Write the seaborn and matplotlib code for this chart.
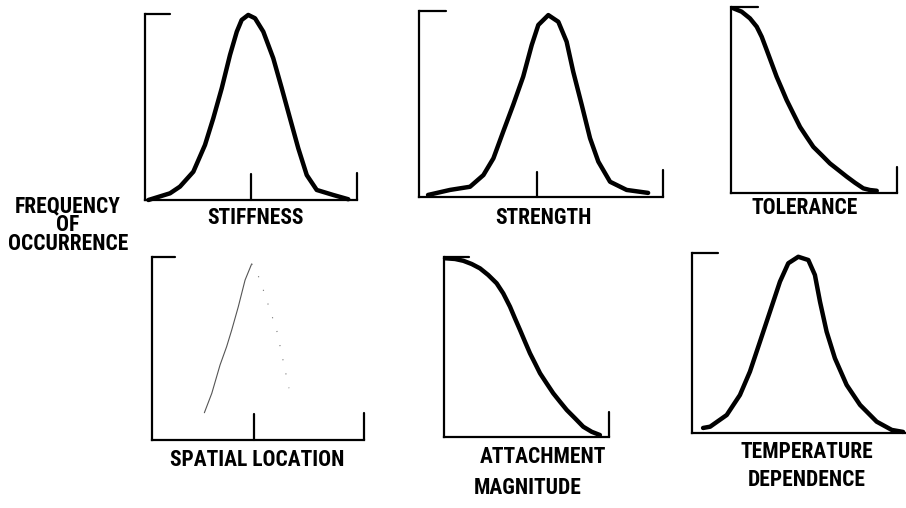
import matplotlib
matplotlib.use("Agg")
import matplotlib.pyplot as plt
import seaborn as sns

sns.set_style("white")
plt.rcParams['font.family'] = ['Liberation Sans Narrow', 'DejaVu Sans Condensed', 'Roboto Condensed', 'DejaVu Sans']

# curves, x and y on a 0-10 scale for each small panel
stiffness_x = [0.16, 1.18, 1.65, 2.28, 2.83, 3.22, 3.62, 4.01, 4.33, 4.56, 4.87, 5.19, 5.58, 6.05, 6.45,
               6.84, 7.23, 7.63, 8.10, 8.88, 9.59]
stiffness_y = [0.00, 0.36, 0.72, 1.52, 2.96, 4.39, 6.01, 7.80, 9.05, 9.68, 9.95, 9.77, 9.05, 7.62, 6.01,
               4.39, 2.78, 1.34, 0.54, 0.27, 0.04]

strength_x = [0.37, 1.27, 2.09, 2.64, 3.05, 3.45, 3.86, 4.27, 4.62, 4.89, 5.30, 5.71, 6.05, 6.32, 6.67,
              7.01, 7.35, 7.83, 8.51, 9.39]
strength_y = [0.11, 0.38, 0.55, 1.18, 2.08, 3.51, 4.95, 6.47, 8.17, 9.25, 9.78, 9.42, 8.35, 6.74, 4.95,
              3.16, 1.90, 0.82, 0.38, 0.22]

tolerance_x = [0.14, 0.64, 1.14, 1.55, 1.85, 2.15, 2.45, 2.75, 3.05, 3.35, 3.75, 4.16, 4.56, 4.96, 5.46,
               5.96, 6.46, 6.97, 7.47, 7.97, 8.37, 8.78]
tolerance_y = [9.93, 9.75, 9.39, 8.94, 8.40, 7.69, 6.97, 6.25, 5.63, 5.00, 4.28, 3.55, 3.01, 2.48, 2.04,
               1.59, 1.24, 0.88, 0.55, 0.25, 0.16, 0.12]

spatial_rise_x = [2.47, 2.82, 3.21, 3.52, 3.76, 4.07, 4.39, 4.70]
spatial_rise_y = [1.49, 2.55, 4.10, 5.10, 6.01, 7.28, 8.74, 9.62]
spatial_fall_x = [4.70, 4.86, 5.25, 5.88, 6.46]
spatial_fall_y = [9.62, 9.47, 8.20, 6.01, 2.83]

attachment_x = [0.06, 0.67, 1.17, 1.68, 2.18, 2.68, 3.19, 3.59, 4.00, 4.30, 4.61, 4.91, 5.21, 5.52, 5.82,
                6.22, 6.62, 7.03, 7.44, 7.94, 8.44, 8.95, 9.45]
attachment_y = [9.93, 9.89, 9.79, 9.61, 9.37, 9.00, 8.54, 7.98, 7.24, 6.59, 5.94, 5.29, 4.65, 4.09, 3.54,
                2.98, 2.43, 1.96, 1.50, 1.04, 0.57, 0.29, 0.11]

temperature_x = [0.52, 0.85, 1.63, 2.25, 2.72, 3.19, 3.66, 4.13, 4.52, 4.99, 5.46, 5.77, 6.01, 6.32, 6.71,
                 7.26, 7.89, 8.67, 9.38, 9.91]
temperature_y = [0.28, 0.35, 1.00, 2.11, 3.41, 5.07, 6.74, 8.41, 9.43, 9.79, 9.61, 8.78, 7.29, 5.63, 4.15,
                 2.67, 1.56, 0.63, 0.17, 0.06]

W, H = 906, 508
fig = plt.figure(figsize=(W / 100, H / 100), dpi=100)


def panel(box, x, y, stub, end_tick=None, mid_tick=None, **line_kw):
    # box = left, bottom, width, height in pixels
    left, bottom, w, h = box
    ax = fig.add_axes([left / W, 1 - bottom / H, w / W, h / H])
    kw = dict(color='black', linewidth=3.2)
    kw.update(line_kw)
    sns.lineplot(x=x, y=y, ax=ax, estimator=None, sort=False, **kw)
    ax.set_xlim(0, 10)
    ax.set_ylim(0, 10)
    ax.set_xticks([])
    ax.set_yticks([])
    ax.set_xlabel('')
    ax.set_ylabel('')
    ax.spines['top'].set_visible(False)
    ax.spines['right'].set_visible(False)
    for s in ['left', 'bottom']:
        ax.spines[s].set_linewidth(1.6)
        ax.spines[s].set_color('black')
    ax.axhline(10, 0, stub, color='black', lw=1.6, clip_on=False)
    if end_tick:
        ax.axvline(10, 0, end_tick, color='black', lw=1.6, clip_on=False)
    if mid_tick:
        ax.axvline(mid_tick[0], 0, mid_tick[1], color='black', lw=1.6, clip_on=False)
    for line in ax.lines:
        line.set_clip_on(False)
        line.set_solid_joinstyle('round')
        line.set_solid_capstyle('round')
    return ax


panel((145, 200, 212, 186), stiffness_x, stiffness_y, 0.12, end_tick=0.145, mid_tick=(5.0, 0.14))
panel((419, 197, 244, 186), strength_x, strength_y, 0.11, end_tick=0.145, mid_tick=(4.84, 0.134))
panel((731, 193, 166, 186), tolerance_x, tolerance_y, 0.16, end_tick=0.14)
ax4 = panel((152, 440, 212, 183), spatial_rise_x, spatial_rise_y, 0.11, end_tick=0.15, mid_tick=(4.81, 0.14),
            color='#555555', linewidth=0.8)
sns.lineplot(x=spatial_fall_x, y=spatial_fall_y, ax=ax4, estimator=None, sort=False,
             color='#777777', linewidth=0.8, linestyle=(0, (1, 12)))
panel((444, 437, 165, 180), attachment_x, attachment_y, 0.15, end_tick=0.14)
panel((692, 433, 213, 180), temperature_x, temperature_y, 0.12)


def label(x, y, s, **kw):
    fig.text(x / W, 1 - y / H, s, ha='center', va='center', fontsize=15.5, fontweight='bold',
             fontstretch='condensed', color='black', multialignment='center', **kw)


label(255, 218, 'STIFFNESS')
label(543, 218, 'STRENGTH')
label(805, 208, 'TOLERANCE')
label(257, 460, 'SPATIAL LOCATION')
label(543, 457, 'ATTACHMENT')
label(528, 488, 'MAGNITUDE')
label(807, 466, 'TEMPERATURE\nDEPENDENCE', linespacing=1.3)
label(68, 225, 'FREQUENCY\nOF\nOCCURRENCE', linespacing=0.82)

fig.savefig('out.png', dpi=100)
